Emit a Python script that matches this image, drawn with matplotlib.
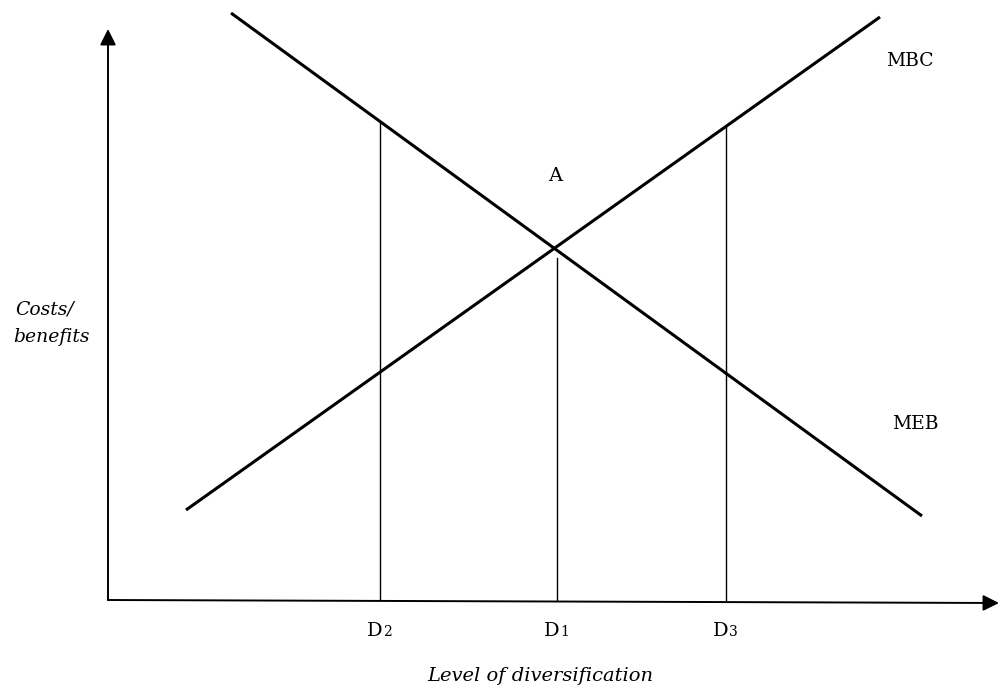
import matplotlib
matplotlib.use('Agg')
import matplotlib.pyplot as plt

# curves (level of diversification, costs/benefits)
meb_x = [1.23, 8.14]
meb_y = [5.87, 0.84]
mbc_x = [0.78, 7.72]
mbc_y = [0.90, 5.83]

# reference levels and the height the drop lines reach
d_names = ['D2', 'D1', 'D3']
d_x = [2.72, 4.49, 6.18]
d_top = [4.78, 3.42, 4.74]

x_end = 8.91
y_end = 5.71

plt.rcParams['font.family'] = ['DejaVu Serif']

fig = plt.figure(figsize=(9.99, 6.87), dpi=100)
ax = fig.add_axes([0, 0, 1, 1])
ax.set_xlim(-1.08, 8.91)
ax.set_ylim(-0.87, 6.00)
ax.axis('off')

# axes with arrow heads
arrow = dict(arrowstyle='-|>,head_length=0.6,head_width=0.3', color='black',
             lw=1.4, mutation_scale=16, shrinkA=0, shrinkB=0)
ax.annotate('', xy=(0, y_end), xytext=(0, 0), arrowprops=arrow)
ax.annotate('', xy=(x_end, -0.03), xytext=(0, 0), arrowprops=arrow)

# the two curves
ax.plot(meb_x, meb_y, color='black', lw=2.2, solid_capstyle='butt')
ax.plot(mbc_x, mbc_y, color='black', lw=2.2, solid_capstyle='butt')

# drop lines
for x, top in zip(d_x, d_top):
    ax.plot([x, x], [0, top], color='black', lw=1.0)

# D labels with small figures on the baseline
for name, x in zip(d_names, d_x):
    ax.text(x + 0.03, -0.36, name[0], ha='right', va='baseline', fontsize=14)
    ax.text(x + 0.03, -0.36, name[1], ha='left', va='baseline', fontsize=10)

ax.text(8.02, 5.39, 'MBC', ha='center', va='center', fontsize=13.5)
ax.text(8.07, 1.76, 'MEB', ha='center', va='center', fontsize=13.5)
ax.text(4.47, 4.24, 'A', ha='center', va='center', fontsize=14)

ax.text(-0.63, 2.91, 'Costs/', ha='center', va='center', fontsize=13.5, style='italic')
ax.text(-0.57, 2.63, 'benefits', ha='center', va='center', fontsize=13.5, style='italic')
ax.text(4.32, -0.76, 'Level of diversification', ha='center', va='center',
        fontsize=14, style='italic')

plt.savefig('out.png', dpi=100)
